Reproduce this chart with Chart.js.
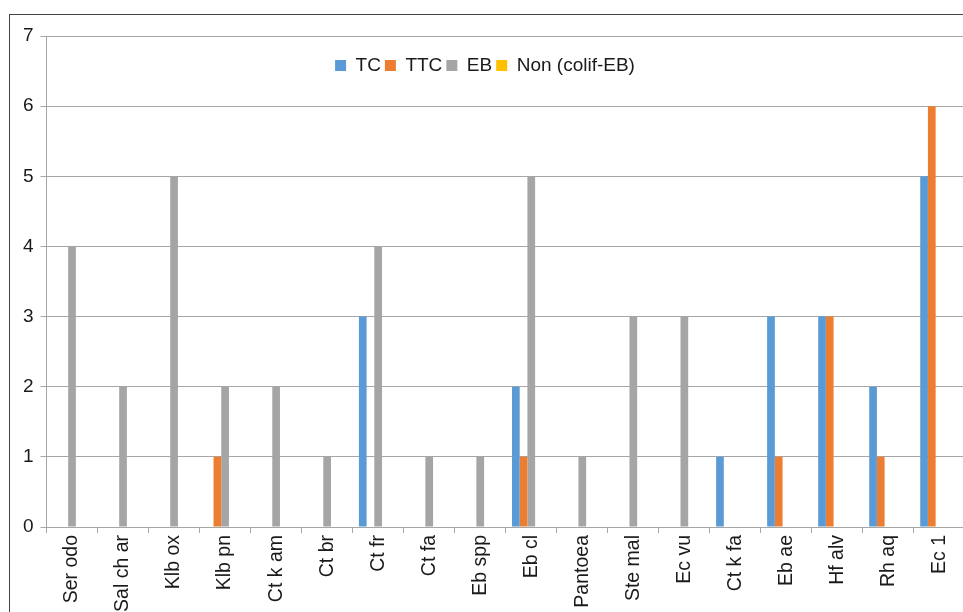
<!DOCTYPE html>
<html>
<head>
<meta charset="utf-8">
<script src="https://cdn.jsdelivr.net/npm/chart.js@4.4.1/dist/chart.umd.min.js"></script>
<style>
  html, body { margin: 0; padding: 0; background: #fff; overflow: hidden; width: 963px; height: 612px; }
  #frame { position: absolute; left: 9px; top: 14px; width: 1100px; height: 800px; border-left: 1px solid #444; border-top: 1px solid #444; }
  #myChart { position: absolute; left: 0; top: 0; }
</style>
</head>
<body>
<div id="frame"></div>
<canvas id="myChart" width="975" height="650"></canvas>
<script>
// categories (bacteria) and counts per group
var labels = ["Ser odo", "Sal ch ar", "Klb ox", "Klb pn", "Ct k am", "Ct br", "Ct fr", "Ct fa", "Eb spp",
  "Eb cl", "Pantoea", "Ste mal", "Ec vu", "Ct k fa", "Eb ae", "Hf alv", "Rh aq", "Ec 1"];
var tc    = [0, 0, 0, 0, 0, 0, 3, 0, 0, 2, 0, 0, 0, 1, 3, 3, 2, 5];
var ttc   = [0, 0, 0, 1, 0, 0, 0, 0, 0, 1, 0, 0, 0, 0, 1, 3, 1, 6];
var eb    = [4, 2, 5, 2, 2, 1, 4, 1, 1, 5, 1, 3, 3, 0, 0, 0, 0, 0];
var nonEb = [0, 0, 0, 0, 0, 0, 0, 0, 0, 0, 0, 0, 0, 0, 0, 0, 0, 0];
var yTicks = [0, 1, 2, 3, 4, 5, 6, 7];

var font = "'Liberation Sans', Arial, sans-serif";
var axisGray = '#a6a6a6';

// the legend floats inside the plot (takes no room), a bit left of centre
var legendMove = {
  id: 'legendMove',
  afterInit: function(chart) {
    var lg = chart.legend, fit = lg.fit;
    lg.fit = function() { fit.call(this); this.height = 0; };
  },
  afterLayout: function(chart) {
    var lg = chart.legend;
    lg.left = 285; lg.right = 685;
    lg.top = 52; lg.bottom = 94;
  }
};

var ctx = document.getElementById('myChart').getContext('2d');
window.chart = new Chart(ctx, {
  type: 'bar',
  data: {
    labels: labels,
    datasets: [
      { label: 'TC', data: tc, backgroundColor: '#5B9BD5' },
      { label: 'TTC', data: ttc, backgroundColor: '#ED7D31' },
      { label: 'EB', data: eb, backgroundColor: '#A5A5A5' },
      { label: 'Non (colif-EB)', data: nonEb, backgroundColor: '#FFC000' },
      { label: '', data: [], backgroundColor: 'rgba(0,0,0,0)' } // empty slot, as in the original
    ]
  },
  plugins: [legendMove],
  options: {
    responsive: false,
    animation: false,
    devicePixelRatio: 1,
    layout: { padding: { left: 0, right: 10, top: 36, bottom: 0 } },
    datasets: { bar: { categoryPercentage: 0.755, barPercentage: 1 } },
    plugins: {
      tooltip: { enabled: false },
      legend: {
        position: 'top',
        align: 'center',
        labels: {
          boxWidth: 11, boxHeight: 11, padding: 4,
          color: '#1a1a1a',
          font: { family: font, size: 19 },
          filter: function(item) { return item.text !== ''; }
        }
      }
    },
    scales: {
      x: {
        grid: { display: true, drawOnChartArea: false, drawTicks: true, tickLength: 6, color: axisGray, offset: true },
        border: { color: axisGray, width: 1 },
        ticks: { autoSkip: false, minRotation: 90, maxRotation: 90, padding: 2, color: '#1a1a1a', font: { family: font, size: 19.5 } },
        afterFit: function(s) { s.height = 650 - 527; }
      },
      y: {
        min: 0, max: 7,
        afterBuildTicks: function(s) { s.ticks = yTicks.map(function(v) { return { value: v }; }); },
        grid: { color: axisGray, tickLength: 6 },
        border: { color: axisGray, width: 1 },
        ticks: { padding: 7, color: '#1a1a1a', font: { family: font, size: 19 } },
        afterFit: function(s) { s.width = 46.5; }
      }
    }
  }
});
</script>
</body>
</html>
